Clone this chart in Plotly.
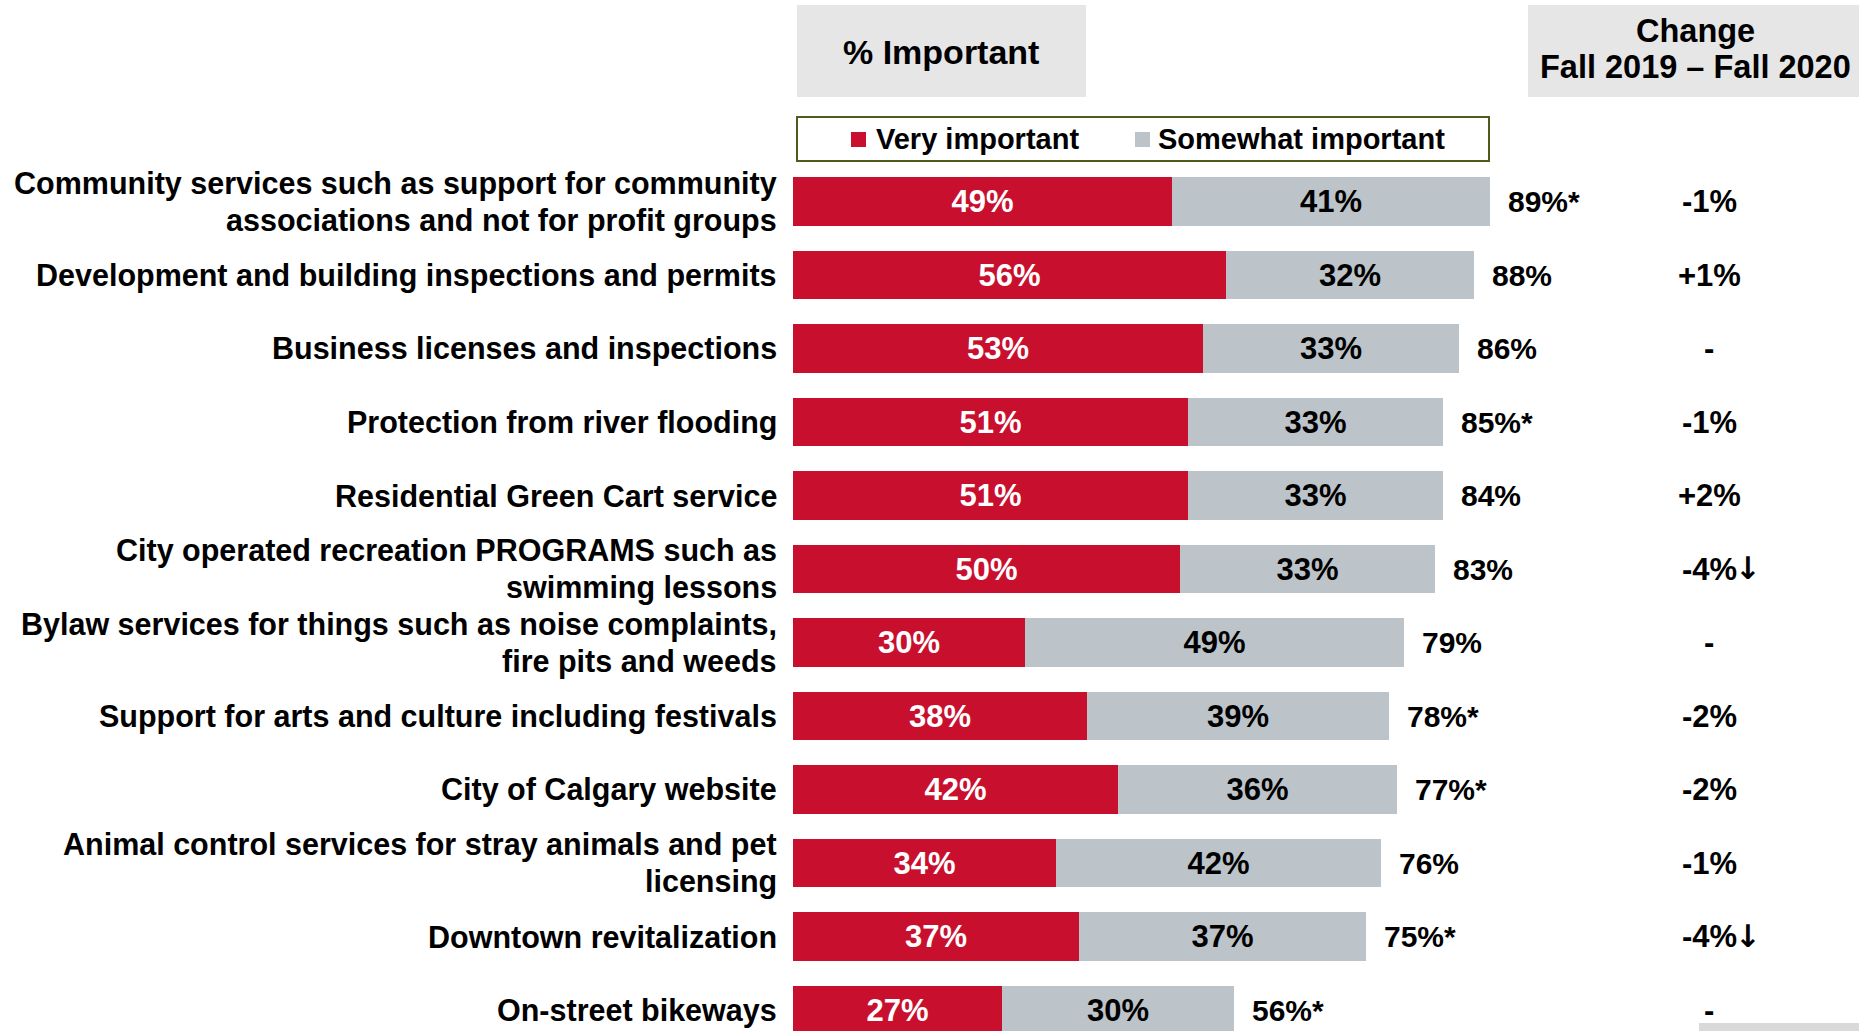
import plotly.graph_objects as go

# ---------------- data ----------------
categories = [
    "Community services such as support for community<br>associations and not for profit groups",
    "Development and building inspections and permits",
    "Business licenses and inspections",
    "Protection from river flooding",
    "Residential Green Cart service",
    "City operated recreation PROGRAMS such as<br>swimming lessons",
    "Bylaw services for things such as noise complaints,<br>fire pits and weeds",
    "Support for arts and culture including festivals",
    "City of Calgary website",
    "Animal control services for stray animals and pet<br>licensing",
    "Downtown revitalization",
    "On-street bikeways",
]
very_important = [49, 56, 53, 51, 51, 50, 30, 38, 42, 34, 37, 27]
somewhat_important = [41, 32, 33, 33, 33, 33, 49, 39, 36, 42, 37, 30]
total_labels = ["89%*", "88%", "86%", "85%*", "84%", "83%", "79%", "78%*", "77%*", "76%", "75%*", "56%*"]
change_labels = ["-1%", "+1%", "-", "-1%", "+2%", "-4%", "-", "-2%", "-2%", "-1%", "-4%", "-"]
change_arrow = [False, False, False, False, False, True, False, False, False, False, True, False]
series_names = ["Very important", "Somewhat important"]
header_left = "% Important"
header_right = ["Change", "Fall 2019 – Fall 2020"]

# ---------------- style ----------------
W, H = 1859, 1031
RED = "#c8102e"
GREY = "#bcc3c9"
BOX = "#e6e6e6"
FONT = "Liberation Sans, Arial, sans-serif"


def px(x):
    return x / W


def py(y):
    return 1 - y / H


rows = list(range(len(categories)))

fig = go.Figure()
fig.add_trace(go.Bar(
    y=rows, x=very_important, orientation="h", name=series_names[0],
    marker=dict(color=RED, line=dict(width=0)), width=0.66,
    texttemplate="%{x}%", textposition="inside", insidetextanchor="middle",
    constraintext="none",
    textfont=dict(family=FONT, size=31, color="white", weight="bold"),
    showlegend=False,
))
fig.add_trace(go.Bar(
    y=rows, x=somewhat_important, orientation="h", name=series_names[1],
    marker=dict(color=GREY, line=dict(width=0)), width=0.66,
    texttemplate="%{x}%", textposition="inside", insidetextanchor="middle",
    constraintext="none",
    textfont=dict(family=FONT, size=31, color="black", weight="bold"),
    showlegend=False,
))

annotations = []
shapes = []

# category labels (split lines so the line spacing matches)
LINE_H = 36.8
for i, cat in enumerate(categories):
    lines = cat.split("<br>")
    n = len(lines)
    for k, ln in enumerate(lines):
        annotations.append(dict(
            x=px(779), xref="paper", y=i, yref="y", text=ln, showarrow=False,
            xanchor="right", yanchor="middle",
            yshift=-(k - (n - 1) / 2) * LINE_H,
            font=dict(family=FONT, size=30.5, color="black", weight="bold"),
        ))

# total labels
for i, (v, s, t) in enumerate(zip(very_important, somewhat_important, total_labels)):
    annotations.append(dict(
        x=v + s, xref="x", y=i, yref="y", text=t, showarrow=False,
        xanchor="left", yanchor="middle", xshift=16,
        font=dict(family=FONT, size=30, color="black", weight="bold"),
    ))

# change column
for i, (c, arr) in enumerate(zip(change_labels, change_arrow)):
    annotations.append(dict(
        x=px(1709), xref="paper", y=i, yref="y", text=c, showarrow=False,
        xanchor="center", yanchor="middle",
        font=dict(family=FONT, size=31, color="black", weight="bold"),
    ))
    if arr:
        annotations.append(dict(
            x=px(1733), xref="paper", y=i, yref="y", text="↓", showarrow=False,
            xanchor="left", yanchor="middle", yshift=1,
            font=dict(family="DejaVu Sans", size=31, color="black", weight="bold"),
        ))

# header boxes
shapes.append(dict(type="rect", xref="paper", yref="paper",
                   x0=px(797), x1=px(1086), y0=py(97), y1=py(5),
                   fillcolor=BOX, line=dict(width=0), layer="below"))
shapes.append(dict(type="rect", xref="paper", yref="paper",
                   x0=px(1528), x1=px(1859), y0=py(97), y1=py(5),
                   fillcolor=BOX, line=dict(width=0), layer="below"))
annotations.append(dict(x=px(941), y=py(52), xref="paper", yref="paper",
                        text=header_left, showarrow=False, xanchor="center", yanchor="middle",
                        font=dict(family=FONT, size=34, color="black", weight="bold")))
annotations.append(dict(x=px(1695), y=py(31), xref="paper", yref="paper",
                        text=header_right[0], showarrow=False, xanchor="center", yanchor="middle",
                        font=dict(family=FONT, size=32.5, color="black", weight="bold")))
annotations.append(dict(x=px(1695), y=py(67), xref="paper", yref="paper",
                        text=header_right[1], showarrow=False, xanchor="center", yanchor="middle",
                        font=dict(family=FONT, size=32.5, color="black", weight="bold")))

# legend box
shapes.append(dict(type="rect", xref="paper", yref="paper",
                   x0=px(797), x1=px(1489), y0=py(161), y1=py(117),
                   fillcolor="white", line=dict(color="#4f5a1e", width=2)))
for sx, tx, col, name in [(851, 874, RED, series_names[0]), (1135, 1156, GREY, series_names[1])]:
    shapes.append(dict(type="rect", xref="paper", yref="paper",
                       x0=px(sx), x1=px(sx + 15), y0=py(147), y1=py(132),
                       fillcolor=col, line=dict(width=0)))
    annotations.append(dict(x=px(tx), y=py(139), xref="paper", yref="paper",
                            text=name, showarrow=False, xanchor="left", yanchor="middle",
                            font=dict(family=FONT, size=29, color="black", weight="bold")))

# small grey strip at bottom right
shapes.append(dict(type="rect", xref="paper", yref="paper",
                   x0=px(1699), x1=px(1859), y0=py(1031), y1=py(1023),
                   fillcolor="#d9d9d9", line=dict(width=0)))

fig.update_layout(
    width=W, height=H,
    margin=dict(l=0, r=0, t=0, b=0),
    paper_bgcolor="white", plot_bgcolor="rgba(0,0,0,0)",
    barmode="stack", bargap=0,
    showlegend=False,
    xaxis=dict(range=[0, 100], domain=[px(793), px(1567)], visible=False, fixedrange=True),
    yaxis=dict(range=[11.284, -2.743], domain=[0, 1], visible=False, fixedrange=True),
    annotations=annotations,
    shapes=shapes,
    font=dict(family=FONT),
)

fig.write_html(
    "out.html",
    config={"displayModeBar": False},
    post_script="document.body.style.margin='0';document.body.style.overflow='hidden';",
)
